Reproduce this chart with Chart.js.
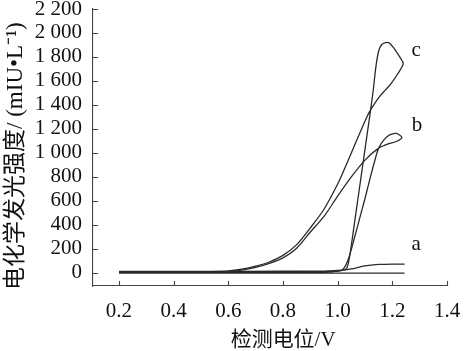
<!DOCTYPE html>
<html>
<head>
<meta charset="utf-8">
<script src="https://cdn.jsdelivr.net/npm/chart.js@4"></script>
<style>
html, body { margin: 0; padding: 0; background: #fff; }
#wrap { width: 464px; height: 351px; }
</style>
</head>
<body>
<div id="wrap"><canvas id="chart"></canvas></div>
<script>
// tick values
const xTicks = [0.2, 0.4, 0.6, 0.8, 1.0, 1.2, 1.4];
const yTicks = [0, 200, 400, 600, 800, 1000, 1200, 1400, 1600, 1800, 2000, 2200];

// curve a (forward scan, gap, return scan)
const aPotential = [0.2, 0.5, 0.8, 0.95, 1.0, 1.05, 1.1, 1.15, 1.2, 1.245, 1.245, 1.245, 1.0, 0.6, 0.2];
const aSignal    = [4, 4, 5, 8, 14, 32, 58, 70, 73, 72, null, -2, -2, -3, -3];

// curve b
const bPotential = [0.2, 0.5, 0.8, 0.95, 1.0, 1.02, 1.04, 1.06, 1.08, 1.10, 1.12, 1.14, 1.15, 1.17, 1.19, 1.215, 1.235,
                    1.215, 1.19, 1.15, 1.1, 1.05, 1.0, 0.95, 0.9, 0.85, 0.8, 0.75, 0.7, 0.65, 0.6, 0.5, 0.3, 0.2];
const bSignal    = [6, 6, 8, 10, 15, 30, 120, 280, 450, 620, 800, 970, 1040, 1110, 1150, 1162, 1128,
                    1095, 1080, 1040, 940, 800, 640, 470, 340, 205, 125, 78, 45, 22, 10, 7, 6, 6];

// curve c
const cPotential = [0.2, 0.5, 0.8, 0.95, 1.0, 1.03, 1.04, 1.05, 1.06, 1.07, 1.08, 1.09, 1.10, 1.11, 1.12, 1.13, 1.14, 1.15, 1.16, 1.175, 1.19, 1.21, 1.23, 1.24,
                    1.22, 1.196, 1.175, 1.156, 1.135, 1.113, 1.08, 1.05, 1.02, 1.0, 0.95, 0.9, 0.85, 0.8, 0.75, 0.7, 0.65, 0.6, 0.5, 0.2];
const cSignal    = [12, 12, 13, 14, 20, 30, 90, 230, 390, 550, 710, 870, 1030, 1190, 1350, 1520, 1720, 1850, 1900, 1920, 1915, 1860, 1790, 1745,
                    1660, 1580, 1525, 1477, 1410, 1328, 1160, 1000, 840, 740, 530, 375, 235, 145, 90, 55, 30, 16, 12, 12];

const curveNames = ['a', 'b', 'c'];
const labelPotential = [1.287, 1.29, 1.287];
const labelSignal = [240, 1228, 1850];

const toPoints = (xs, ys) => xs.map((x, i) => ({ x: x, y: ys[i] }));
const serif = "'Liberation Serif', 'Noto Sans CJK SC', serif";

const lineSet = (pts) => ({
    data: pts,
    showLine: true,
    spanGaps: false,
    borderColor: '#2a2a2a',
    borderWidth: 1.3,
    pointRadius: 0,
    tension: 0.3,
    fill: false
});

// inward tick marks + curve labels
const extras = {
    id: 'extras',
    afterDraw(chart) {
        const c = chart.ctx;
        const xs = chart.scales.x, ys = chart.scales.y;
        const area = chart.chartArea;
        c.save();
        c.strokeStyle = '#444';
        c.lineWidth = 1.1;
        c.beginPath();
        xTicks.forEach(v => {
            const px = Math.round(xs.getPixelForValue(v)) + 0.5;
            c.moveTo(px, area.bottom);
            c.lineTo(px, area.bottom - 5);
        });
        yTicks.forEach(v => {
            const py = Math.round(ys.getPixelForValue(v)) + 0.5;
            c.moveTo(area.left, py);
            c.lineTo(area.left + 5, py);
        });
        c.stroke();
        c.fillStyle = '#111';
        c.font = '21px ' + serif;
        c.textAlign = 'center';
        c.textBaseline = 'middle';
        curveNames.forEach((n, i) => {
            c.fillText(n, xs.getPixelForValue(labelPotential[i]), ys.getPixelForValue(labelSignal[i]));
        });
        c.restore();
    }
};

const fmtY = v => v >= 1000 ? Math.floor(v / 1000) + ' ' + String(v % 1000).padStart(3, '0') : String(v);

new Chart(document.getElementById('chart'), {
    type: 'scatter',
    data: {
        datasets: [
            lineSet(toPoints(aPotential, aSignal)),
            lineSet(toPoints(bPotential, bSignal)),
            lineSet(toPoints(cPotential, cSignal))
        ]
    },
    options: {
        responsive: true,
        maintainAspectRatio: false,
        animation: false,
        devicePixelRatio: 1,
        layout: { padding: { top: 9, right: 17, left: 0, bottom: 0 } },
        plugins: { legend: { display: false }, tooltip: { enabled: false } },
        scales: {
            x: {
                type: 'linear',
                min: 0.105,
                max: 1.4,
                afterBuildTicks: s => { s.ticks = xTicks.map(v => ({ value: v })); },
                afterFit: s => { s.height = 65; s.paddingLeft = 0; s.paddingRight = 0; },
                grid: { display: false, drawTicks: false },
                border: { display: true, color: '#444', width: 1.1 },
                ticks: {
                    color: '#111',
                    font: { family: serif, size: 21 },
                    padding: 13,
                    maxRotation: 0,
                    autoSkip: false,
                    callback: v => Number(v).toFixed(1)
                },
                title: {
                    display: true,
                    text: '     检测电位/V',
                    color: '#111',
                    font: { family: serif, size: 21, lineHeight: 1 },
                    padding: { top: 0, bottom: 0 }
                }
            },
            y: {
                type: 'linear',
                min: -110,
                max: 2200,
                afterBuildTicks: s => { s.ticks = yTicks.map(v => ({ value: v })); },
                afterFit: s => { s.width = 93; s.paddingTop = 0; s.paddingBottom = 0; },
                grid: { display: false, drawTicks: false },
                border: { display: true, color: '#444', width: 1.1 },
                ticks: {
                    color: '#111',
                    font: { family: serif, size: 21 },
                    padding: 11,
                    autoSkip: false,
                    callback: v => fmtY(v)
                },
                title: {
                    display: true,
                    text: '电化学发光强度/ (mIU•L⁻¹)   ',
                    color: '#111',
                    font: { family: serif, size: 23, lineHeight: 1.1 },
                    padding: { top: 3, bottom: 0 }
                }
            }
        }
    },
    plugins: [extras]
});
</script>
</body>
</html>
